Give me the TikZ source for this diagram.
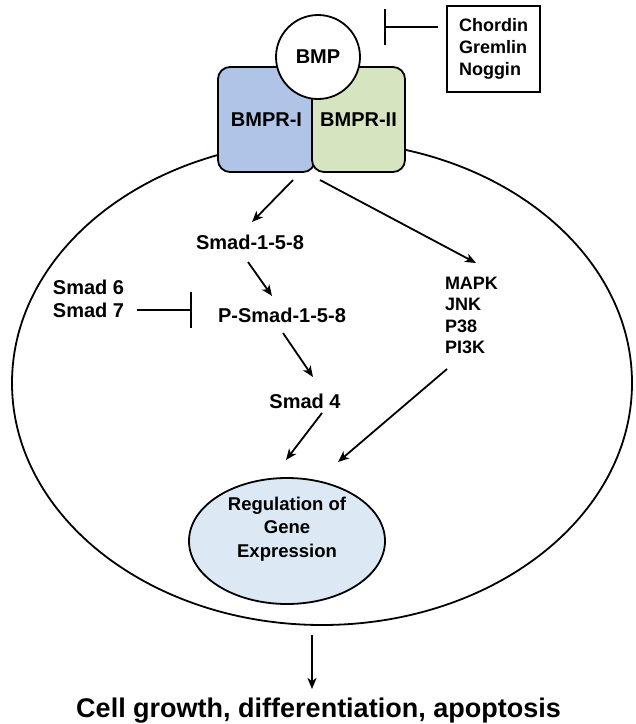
\documentclass[tikz,border=0pt]{standalone}
\usepackage{fontspec}
\setmainfont{Liberation Sans}
\usetikzlibrary{arrows.meta,shapes.geometric}
\definecolor{recblue}{HTML}{AFC4E6}
\definecolor{recgreen}{HTML}{D6E5C0}
\definecolor{genblue}{HTML}{DCE9F4}

\begin{document}
\begin{tikzpicture}
  [x=1pt,y=-1pt,line width=1.8pt,
   every node/.style={inner sep=0pt,font=\bfseries\fontsize{20}{23}\selectfont},
   small/.style={font=\bfseries\fontsize{18}{22}\selectfont},
   rec/.style={draw,rounded corners=12pt,minimum height=105pt},
   arr/.style={-{Stealth[length=11pt,width=9pt,inset=3pt]}},
   inh/.style={-{Bar[width=36pt]}}]
  \useasboundingbox (0,0) rectangle (636,724);

  \node[ellipse,draw,minimum width=620pt,minimum height=484pt] (cell) at (322,383) {};
  \node[rec,fill=recblue,minimum width=97pt] (ri) at (266.5,119.5) {BMPR-I};
  \node[rec,fill=recgreen,minimum width=93pt] (rii) at (358.5,119.5) {BMPR-II};
  \node[circle,draw,fill=white,minimum size=84pt] (bmp) at (318,57) {BMP};
  \node[small,draw,line width=1.2pt,align=left,minimum width=93pt,minimum height=86pt] (inh) at (493.5,49) {Chordin\\Gremlin\\Noggin};

  \node (smad) at (250,242) {Smad-1-5-8};
  \node (psmad) at (282,315) {P-Smad-1-5-8};
  \node (smadf) at (305,401) {Smad 4};
  \node[align=left] (smadi) at (88.5,298.5) {Smad 6\\Smad 7};
  \node[align=left,font=\bfseries\fontsize{18}{21.5}\selectfont] (mapk) at (471.5,315.5) {MAPK\\JNK\\P38\\PI3K};

  \node[ellipse,draw,fill=genblue,minimum width=196pt,minimum height=126pt] (reg) at (287,541) {};
  \node[align=center,font=\bfseries\fontsize{18.5}{23.5}\selectfont] (regtxt) at (287,529) {Regulation of\\Gene\\Expression};
  \node[font=\bfseries\fontsize{27}{30}\selectfont] (out) at (318.5,711) {Cell growth, differentiation, apoptosis};

  \draw[arr] ([shift={(26.5,60.5)}]ri.center) -- ([shift={(2,-20)}]smad.center);
  \draw[arr] ([shift={(-38.5,60.5)}]rii.center) -- ([shift={(4.5,-52.5)}]mapk.center);
  \draw[arr] ([shift={(-2,20)}]smad.center) -- ([shift={(-10,-19)}]psmad.center);
  \draw[arr] ([shift={(1,18)}]psmad.center) -- ([shift={(8,-24)}]smadf.center);
  \draw[arr] ([shift={(17,12)}]smadf.center) -- ([shift={(-1,-81)}]reg.center);
  \draw[arr] ([shift={(-24.5,53.5)}]mapk.center) -- ([shift={(51,-79)}]reg.center);
  \draw[arr] ([shift={(-10,9)}]cell.south) -- ([shift={(-6.5,-22)}]out.center);

  \draw[inh] ([shift={(-8,-22)}]inh.west) -- ([shift={(66,-30)}]bmp.center);
  \draw[inh] ([shift={(48.5,11.5)}]smadi.center) -- ([shift={(-90,-5)}]psmad.center);

\end{tikzpicture}
\end{document}
